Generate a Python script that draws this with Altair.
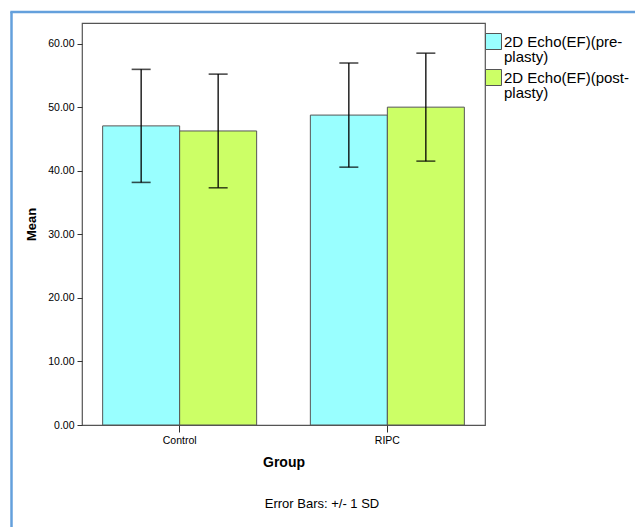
import altair as alt
import pandas as pd

groups = ["Control", "RIPC"]
series = ["2D Echo(EF)(pre-plasty)", "2D Echo(EF)(post-plasty)"]
pre_means = [47.1, 48.8]
post_means = [46.3, 50.05]
pre_sd = [8.9, 8.2]
post_sd = [8.95, 8.5]
colors = ["#99ffff", "#ccff66"]
y_ticks = [0, 10, 20, 30, 40, 50, 60]
note = "Error Bars: +/- 1 SD"

rows = []
for i, g in enumerate(groups):
    rows.append(dict(group=g, series=series[0], mean=pre_means[i], sd=pre_sd[i]))
    rows.append(dict(group=g, series=series[1], mean=post_means[i], sd=post_sd[i]))
df = pd.DataFrame(rows)

FONT = "Liberation Sans"

x = alt.X(
    "group:N",
    sort=groups,
    scale=alt.Scale(paddingInner=0.2585, paddingOuter=0.0994),
    axis=alt.Axis(
        title="Group", labelAngle=0, domain=False, tickSize=7, tickColor="#333",
        labelPadding=3, labelFontSize=10.5, labelColor="#000", labelFont=FONT,
        titleFontSize=14, titleFontWeight="bold", titleFont=FONT, titleColor="#000",
        titlePadding=10, bandPosition=0.5,
    ),
)
xo = alt.XOffset("series:N", sort=series,
                 scale=alt.Scale(domain=series, paddingInner=0, paddingOuter=0))
y = alt.Y(
    "mean:Q",
    scale=alt.Scale(domain=[0, 63.3], nice=False, zero=True),
    axis=alt.Axis(
        title="Mean", values=y_ticks, format=".2f", domain=False, grid=False,
        tickSize=5, tickColor="#333", labelPadding=3, labelFontSize=10.5,
        labelColor="#000", labelFont=FONT, titleFontSize=13, titleFontWeight="bold",
        titleFont=FONT, titleColor="#000", titlePadding=9,
    ),
)

base = alt.Chart(df).transform_calculate(
    lo="datum.mean - datum.sd", hi="datum.mean + datum.sd"
)

bars = base.mark_bar(stroke="#555", strokeWidth=1).encode(
    x=x, xOffset=xo, y=y,
    color=alt.Color(
        "series:N",
        scale=alt.Scale(domain=series, range=colors),
        legend=alt.Legend(
            title=None, orient="none", legendX=403, legendY=10, padding=0,
            symbolType="square", symbolSize=256, symbolStrokeColor="#555",
            symbolStrokeWidth=1, symbolOpacity=1,
            labelFont=FONT, labelFontSize=15, labelColor="#000", labelLimit=300,
            labelOffset=2, rowPadding=2,
            labelExpr="[slice(datum.label, 0, indexof(datum.label, '-') + 1), slice(datum.label, indexof(datum.label, '-') + 1)]",
        ),
    ),
)

err = base.mark_rule(color="#000", strokeWidth=1.3).encode(
    x=x, xOffset=xo, y=alt.Y("lo:Q"), y2="hi:Q"
)
cap_hi = base.mark_tick(color="#000", size=19, thickness=1.6).encode(
    x=x, xOffset=xo, y=alt.Y("hi:Q")
)
cap_lo = base.mark_tick(color="#000", size=19, thickness=1.6).encode(
    x=x, xOffset=xo, y=alt.Y("lo:Q")
)

note_layer = alt.Chart(pd.DataFrame({"t": [note]})).mark_text(
    font=FONT, fontSize=13, color="#000", align="center", baseline="middle"
).encode(text="t:N", x=alt.value(240), y=alt.value(481))

border = alt.Chart(pd.DataFrame({"a": [0]}))
border_v = border.mark_rule(color="#64a0dc", strokeWidth=2.5).encode(
    x=alt.value(-70.5), y=alt.value(-11), y2=alt.value(504)
)
border_h = border.mark_rule(color="#64a0dc", strokeWidth=2.5).encode(
    x=alt.value(-71.7), x2=alt.value(553), y=alt.value(-11)
)

chart = alt.layer(bars, err, cap_hi, cap_lo, note_layer, border_v, border_h).properties(
    width=403, height=402,
    autosize=alt.AutoSizeParams(type="none"),
    padding={"left": 82, "top": 23, "right": 150, "bottom": 102},
    background="white",
).configure(
    style={"guide-label": {"lineHeight": 15}},
    view=alt.ViewConfig(stroke="#555", strokeWidth=1.2),
)

chart.save("out.html", embed_options={"renderer": "svg", "actions": False})
